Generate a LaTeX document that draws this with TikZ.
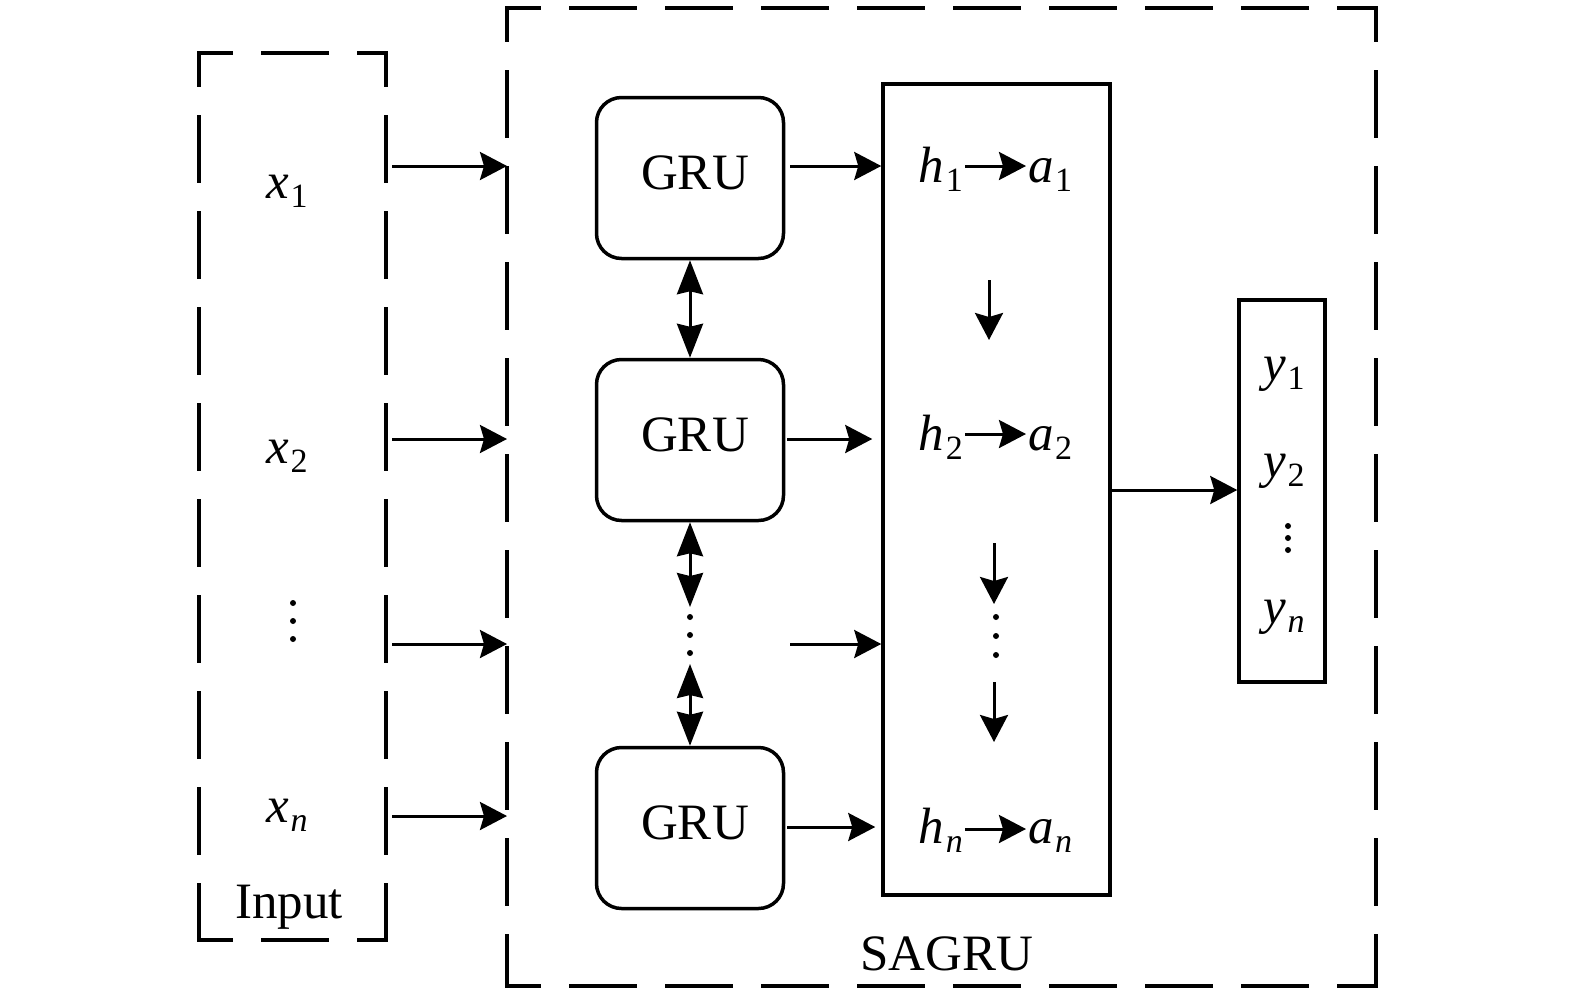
\documentclass[tikz,border=0pt]{standalone}
\usepackage{fontspec}
\setmainfont{Liberation Serif}
\usetikzlibrary{arrows.meta}
\newcommand\vsub[2]{\textit{#1}\kern1.5pt\raisebox{-9pt}{\fontsize{34}{34}\selectfont #2}}
\tikzset{
  tipH/.tip={Stealth[length=27pt,width=28pt,inset=4pt]},
  tipD/.tip={Stealth[length=34pt,width=26pt,inset=3pt]},
  conn/.style={line width=3pt,-{tipH}},
  dbl/.style={line width=3pt,{tipD}-{tipD}},
  dsh/.style={line width=3.3pt,dash pattern=on 64pt off 32pt,dash phase=32pt,line cap=rect},
  gru/.style={draw,line width=3.5pt,rounded corners=25pt,minimum width=187pt,minimum height=161pt,
              text height=36pt,text depth=14pt,inner sep=0pt},
  plainbox/.style={draw,line width=3.5pt,inner sep=0pt},
  lbl/.style={inner sep=0pt},
  dotfill/.style={fill=black}
}
\begin{document}
\begin{tikzpicture}[x=1pt,y=-1pt,font=\fontsize{51}{56}\selectfont]
\useasboundingbox (0,0) rectangle (1575,994);

% dashed boxes
\coordinate (iTL) at (199,53);  \coordinate (iTR) at (386,53);
\coordinate (iBR) at (386,940); \coordinate (iBL) at (199,940);
\coordinate (sTL) at (507,8);   \coordinate (sTR) at (1376,8);
\coordinate (sBR) at (1376,986);\coordinate (sBL) at (507,986);
\draw[dsh] (iTL) -- (iTR); \draw[dsh] (iTR) -- (iBR);
\draw[dsh] (iBL) -- (iBR); \draw[dsh] (iTL) -- (iBL);
\draw[dsh] (sTL) -- (sTR); \draw[dsh] (sTR) -- (sBR);
\draw[dsh] (sBL) -- (sBR); \draw[dsh] (sTL) -- (sBL);

% rows
\coordinate (r1) at (0,166);
\coordinate (r2) at (0,439);
\coordinate (r3) at (0,644);
\coordinate (ri4) at (0,816);
\coordinate (r4) at (0,827);
\coordinate (r5) at (0,490);

% input labels
\node[lbl,anchor=base] (x1) at (287,198) {\vsub{x}{1}};
\node[lbl,anchor=base] (x2) at (287,463) {\vsub{x}{2}};
\node[lbl,anchor=base] (xn) at (287,822) {\vsub{x}{\textit{n}}};
\node[lbl,anchor=base] (inp) at (289,918) {Input};
\fill[dotfill] (293,603) circle (3pt) (293,621) circle (3pt) (293,639) circle (3pt);

% input arrows
\draw[conn,shorten <=6pt] (iTR |- r1) -- (sTL |- r1);
\draw[conn,shorten <=6pt] (iTR |- r2) -- (sTL |- r2);
\draw[conn,shorten <=6pt] (iTR |- r3) -- (sTL |- r3);
\draw[conn,shorten <=6pt] (iTR |- ri4) -- (sTL |- ri4);

% GRU boxes
\node[gru] (g1) at (690,178) {\hspace{10pt}GRU};
\node[gru] (g2) at (690,440) {\hspace{10pt}GRU};
\node[gru] (g3) at (690,828) {\hspace{10pt}GRU};

% attention box and output box
\node[plainbox,minimum width=227pt,minimum height=811pt] (att) at (996.5,489.5) {};
\node[plainbox,minimum width=86pt,minimum height=382pt] (out) at (1282,491) {};

% GRU chain
\coordinate (bEnd) at (690,607);
\coordinate (cStart) at (690,664);
\draw[dbl] (g1.south) -- (g2.north);
\draw[dbl] (g2.south) -- (bEnd);
\draw[dbl] (cStart) -- (g3.north);
\fill[dotfill] (690,617) circle (3pt) (690,635) circle (3pt) (690,653) circle (3pt);

% GRU to attention
\coordinate (f3) at (790,644);
\draw[conn,shorten <=5pt] (g1.east |- r1) -- (att.west |- r1);
\draw[conn,shorten <=2pt,shorten >=9pt] (g2.east |- r2) -- (att.west |- r2);
\draw[conn] (f3) -- (att.west |- r3);
\draw[conn,shorten <=2pt,shorten >=6pt] (g3.east |- r4) -- (att.west |- r4);

% h -> a
\node[lbl,anchor=base east] (h1) at (963,182) {\vsub{h}{1}};
\node[lbl,anchor=base west] (a1) at (1028,182) {\vsub{a}{1}};
\node[lbl,anchor=base east] (h2) at (963,450) {\vsub{h}{2}};
\node[lbl,anchor=base west] (a2) at (1028,450) {\vsub{a}{2}};
\node[lbl,anchor=base east] (hn) at (963,843) {\vsub{h}{\textit{n}}};
\node[lbl,anchor=base west] (an) at (1028,843) {\vsub{a}{\textit{n}}};
\coordinate (ra1) at (0,166);
\coordinate (ra2) at (0,434);
\coordinate (ra3) at (0,829);
\draw[conn,shorten <=2pt,shorten >=2pt] (h1.east |- ra1) -- (a1.west |- ra1);
\draw[conn,shorten <=2pt,shorten >=2pt] (h2.east |- ra2) -- (a2.west |- ra2);
\draw[conn,shorten <=2pt,shorten >=2pt] (hn.east |- ra3) -- (an.west |- ra3);

% down arrows inside attention box
\coordinate (d1s) at (989,280); \coordinate (d1e) at (989,340);
\coordinate (d2s) at (994,543); \coordinate (d2e) at (994,604);
\coordinate (d3s) at (994,682); \coordinate (d3e) at (994,742);
\draw[conn] (d1s) -- (d1e);
\draw[conn] (d2s) -- (d2e);
\draw[conn] (d3s) -- (d3e);
\fill[dotfill] (996,617) circle (3pt) (996,636) circle (3pt) (996,655) circle (3pt);

% attention to output
\draw[conn] (att.east |- r5) -- (out.west |- r5);

% outputs
\node[lbl,anchor=base] (y1) at (1284,380) {\vsub{y}{1}};
\node[lbl,anchor=base] (y2) at (1284,477) {\vsub{y}{2}};
\node[lbl,anchor=base] (yn) at (1284,623) {\vsub{y}{\textit{n}}};
\fill[dotfill] (1288,526) circle (3pt) (1288,538) circle (3pt) (1288,550) circle (3pt);

% SAGRU label
\node[lbl,anchor=base] (sagru) at (947,970) {SAGRU};
\end{tikzpicture}
\end{document}
